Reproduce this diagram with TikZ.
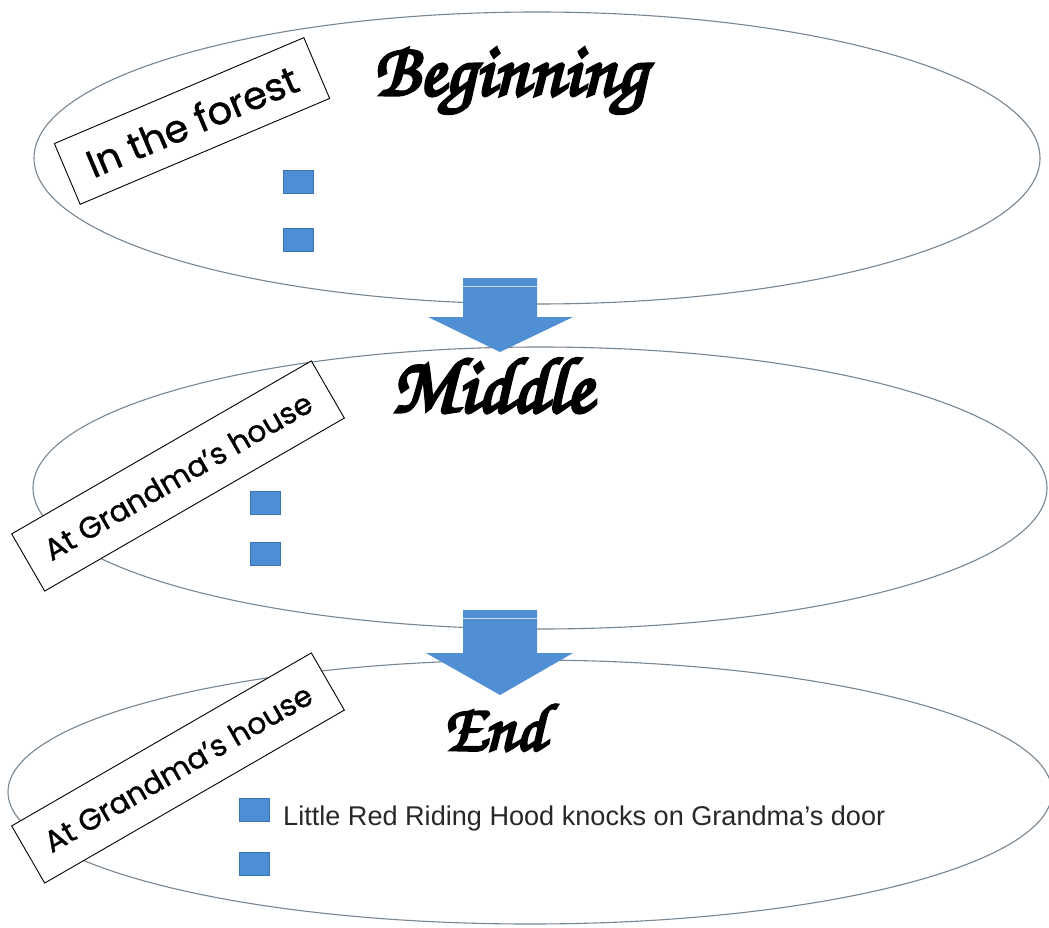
\documentclass[tikz,border=0pt]{standalone}
\usepackage{fontspec}
\usepackage{graphicx}
\usetikzlibrary{shapes.geometric}
\setmainfont{Liberation Sans}
\newfontfamily\titlefont[FakeBold=4]{texgyrechorus-mediumitalic.otf}
\newfontfamily\labelfont[FakeBold=1]{Poppins}
\definecolor{ringgray}{RGB}{120,134,146}
\definecolor{bulletblue}{RGB}{78,142,213}
\definecolor{bulletedge}{RGB}{60,115,180}
\definecolor{arrowblue}{RGB}{80,143,212}
\begin{document}
\begin{tikzpicture}[x=1pt,y=-1pt,
  ring/.style={ellipse, draw=ringgray, line width=1.1pt, fill=white, inner sep=0pt},
  labelbox/.style={draw=black, line width=0.9pt, fill=white, inner sep=0pt, minimum height=66pt, text=black},
  bullet/.style={rectangle, fill=bulletblue, draw=bulletedge, line width=0.4pt, minimum width=30pt, minimum height=23pt, inner sep=0pt},
  titletext/.style={inner sep=0pt, text=black},
  bigarrow/.style={fill=arrowblue, draw=none}]
\useasboundingbox (0,0) rectangle (1049,928);
\fill[white] (0,0) rectangle (1049,928);
% ellipses
\node[ring, minimum width=1006pt, minimum height=292pt] (beg) at (537,158) {};
\node[ring, minimum width=1014pt, minimum height=282pt] (mid) at (540,488) {};
\node[ring, minimum width=1044pt, minimum height=264pt] (fin) at (530,792) {};
% setting labels
\node[labelbox, minimum width=271pt, rotate=23] (lab1) at (192,121) {\resizebox{226pt}{!}{\labelfont In the forest}};
\node[labelbox, minimum width=346pt, rotate=30] (lab2) at (178,476) {\resizebox{304pt}{!}{\labelfont At Grandma’s house}};
\node[labelbox, minimum width=346pt, rotate=30] (lab3) at (178,768) {\resizebox{304pt}{!}{\labelfont At Grandma’s house}};
% arrows
\fill[bigarrow] (463,278) -- (537,278) -- (537,317) -- (573,317) -- (500,352) -- (428,317) -- (463,317) -- cycle;
\draw[white!70!arrowblue, line width=0.6pt] (463,286) -- (537,286);
\fill[bigarrow] (463,610) -- (537,610) -- (537,653) -- (573,653) -- (500,695) -- (426,653) -- (463,653) -- cycle;
\draw[white!70!arrowblue, line width=0.6pt] (463,618) -- (537,618);
% titles
\node[titletext, anchor=base] (tbeg) at (510,95) {\resizebox{273pt}{!}{\titlefont Beginning}};
\node[titletext, anchor=base] (tmid) at (492,412) {\resizebox{201pt}{!}{\titlefont Middle}};
\node[titletext, anchor=base] (tend) at (494,750) {\resizebox{102pt}{!}{\titlefont End}};
% bullets
\node[bullet] (b1) at (298,182) {};
\node[bullet] (b2) at (298,240) {};
\node[bullet] (m1) at (265,503) {};
\node[bullet] (m2) at (265,554) {};
\node[bullet] (e1) at (254,810) {};
\node[bullet] (e2) at (254,864) {};
\node[anchor=base west, inner sep=0pt, font=\fontsize{27.1}{31}\selectfont, text={rgb,255:red,40;green,40;blue,40}] (etext) at (283,825) {Little Red Riding Hood knocks on Grandma’s door};
\end{tikzpicture}
\end{document}
